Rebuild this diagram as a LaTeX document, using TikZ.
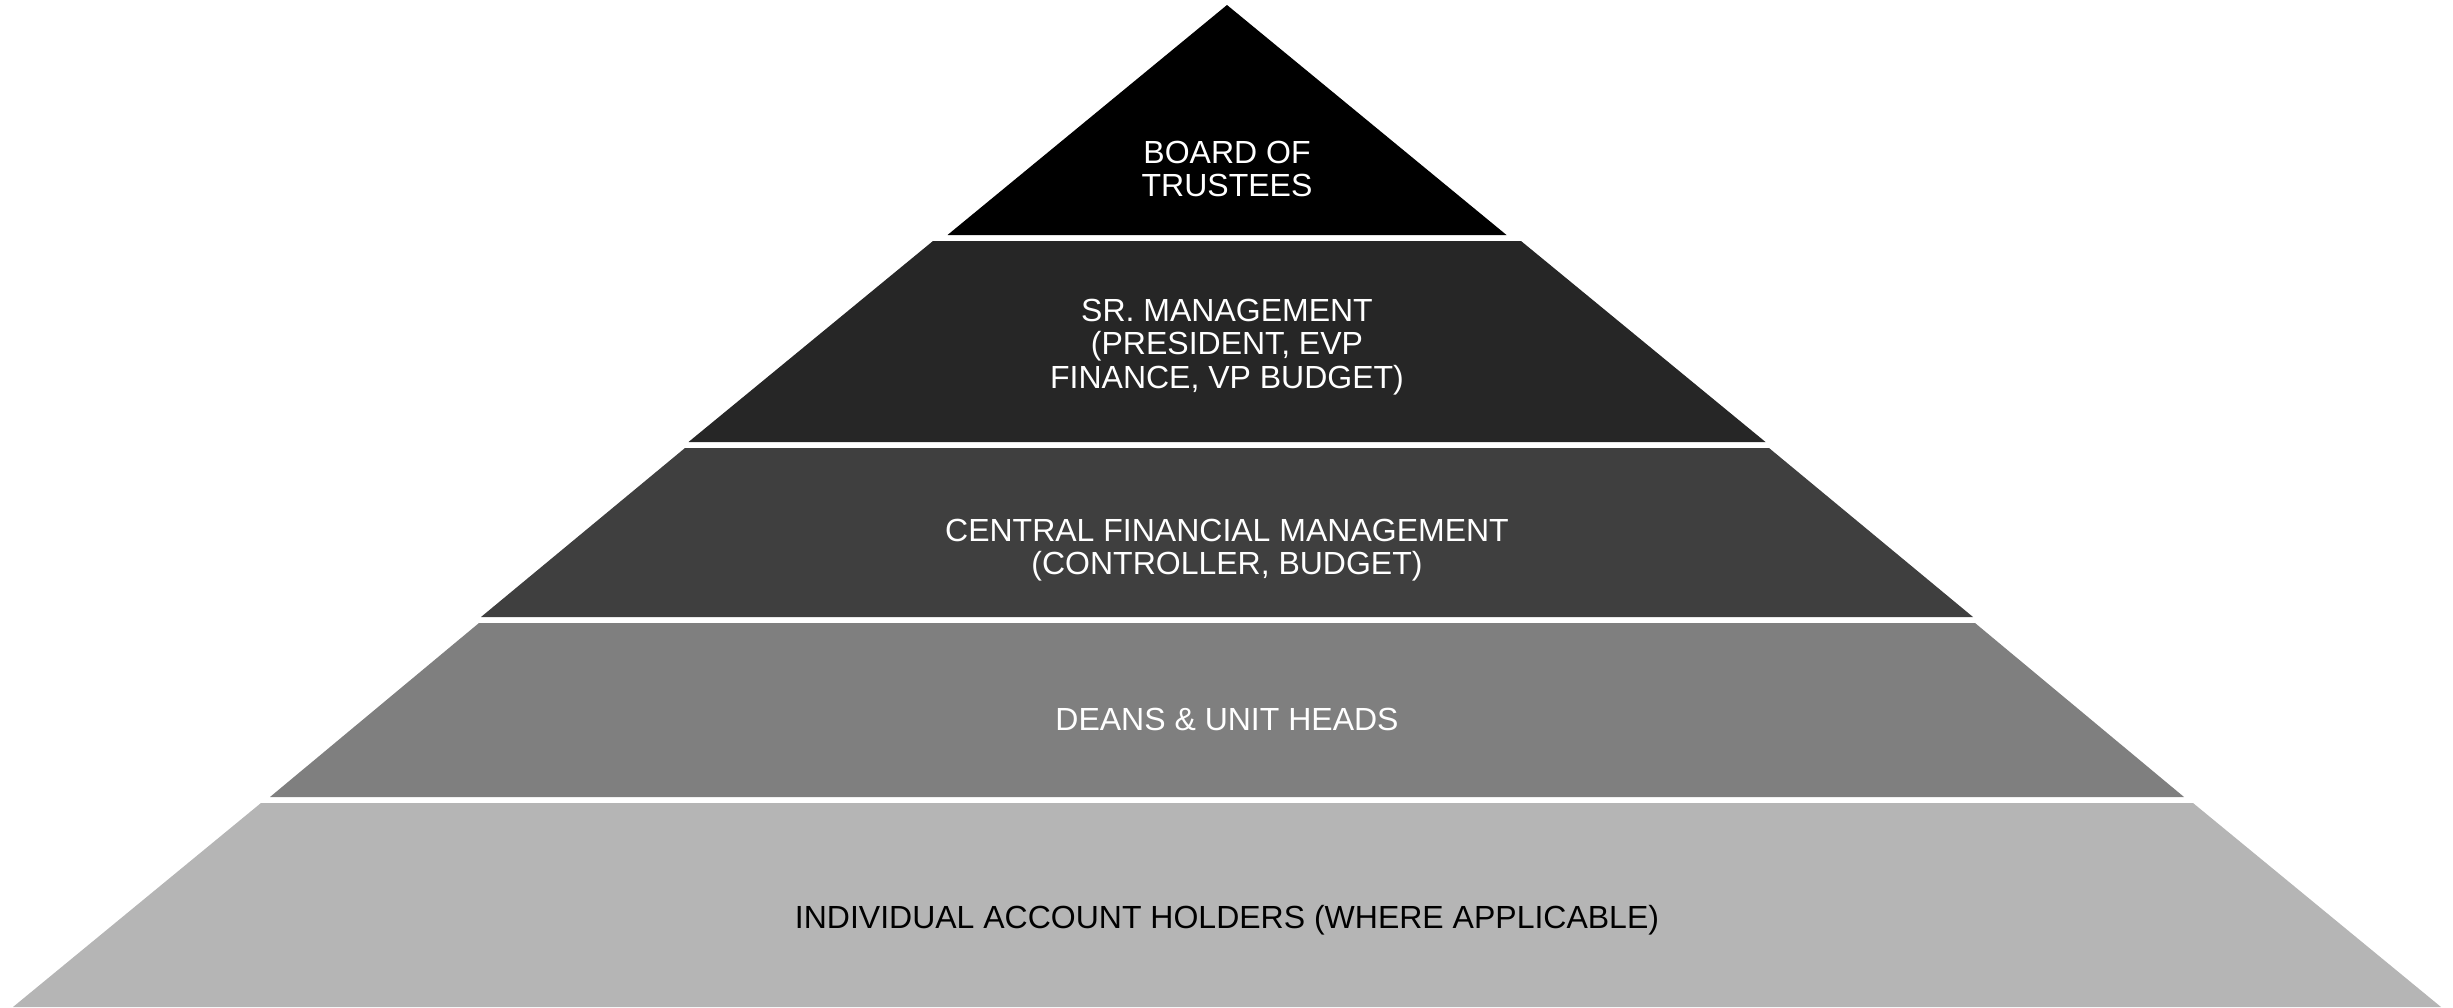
\documentclass[tikz,border=0pt]{standalone}
\usepackage{fontspec}
\setmainfont{Liberation Sans}

\begin{document}
\begin{tikzpicture}[x=0.75pt, y=-0.75pt, line join=round,
    nivel/.style={font=\fontsize{24}{25}\selectfont, align=center, text=white, inner sep=0pt}]

  % Parámetros fundamentales
  \def\cx{1227}     % eje vertical de la pirámide

  % Colores de las franjas
  \definecolor{franjaA}{HTML}{000000}
  \definecolor{franjaB}{HTML}{262626}
  \definecolor{franjaC}{HTML}{3F3F3F}
  \definecolor{franjaD}{HTML}{7F7F7F}
  \definecolor{franjaE}{HTML}{B5B5B5}

  \useasboundingbox (0,0) rectangle (2453,1007);

  % Franja: #1 altura arriba, #2 semiancho arriba, #3 altura abajo, #4 semiancho abajo, #5 color
  \def\franja#1#2#3#4#5{%
    \fill[#5] ({\cx-#2},#1) -- ({\cx+#2},#1)
      -- ({\cx+#4},#3) -- ({\cx-#4},#3) -- cycle;}

  % --- Niveles de la pirámide ---
  \franja{5}{0}{235}{279.5}{franjaA}
  \franja{241}{294}{442}{538.5}{franjaB}
  \franja{448}{542}{617}{746}{franjaC}
  \franja{623}{748}{797}{957}{franjaD}
  \franja{803}{966}{1007}{1214}{franjaE}

  % --- Rótulos ---
  \node[nivel] (consejo) at (\cx,169) {BOARD OF\\TRUSTEES};
  \node[nivel] (direccion) at (\cx,347) {SR. MANAGEMENT\\(PRESIDENT, EVP\\FINANCE, VP BUDGET)};
  \node[nivel] (central) at (\cx,550) {CENTRAL FINANCIAL MANAGEMENT\\(CONTROLLER, BUDGET)};
  \node[nivel] (decanos) at (\cx,719) {DEANS \& UNIT HEADS};
  \node[nivel, text=black] (titulares) at (\cx,920) {INDIVIDUAL ACCOUNT HOLDERS (WHERE APPLICABLE)};

\end{tikzpicture}
\end{document}
